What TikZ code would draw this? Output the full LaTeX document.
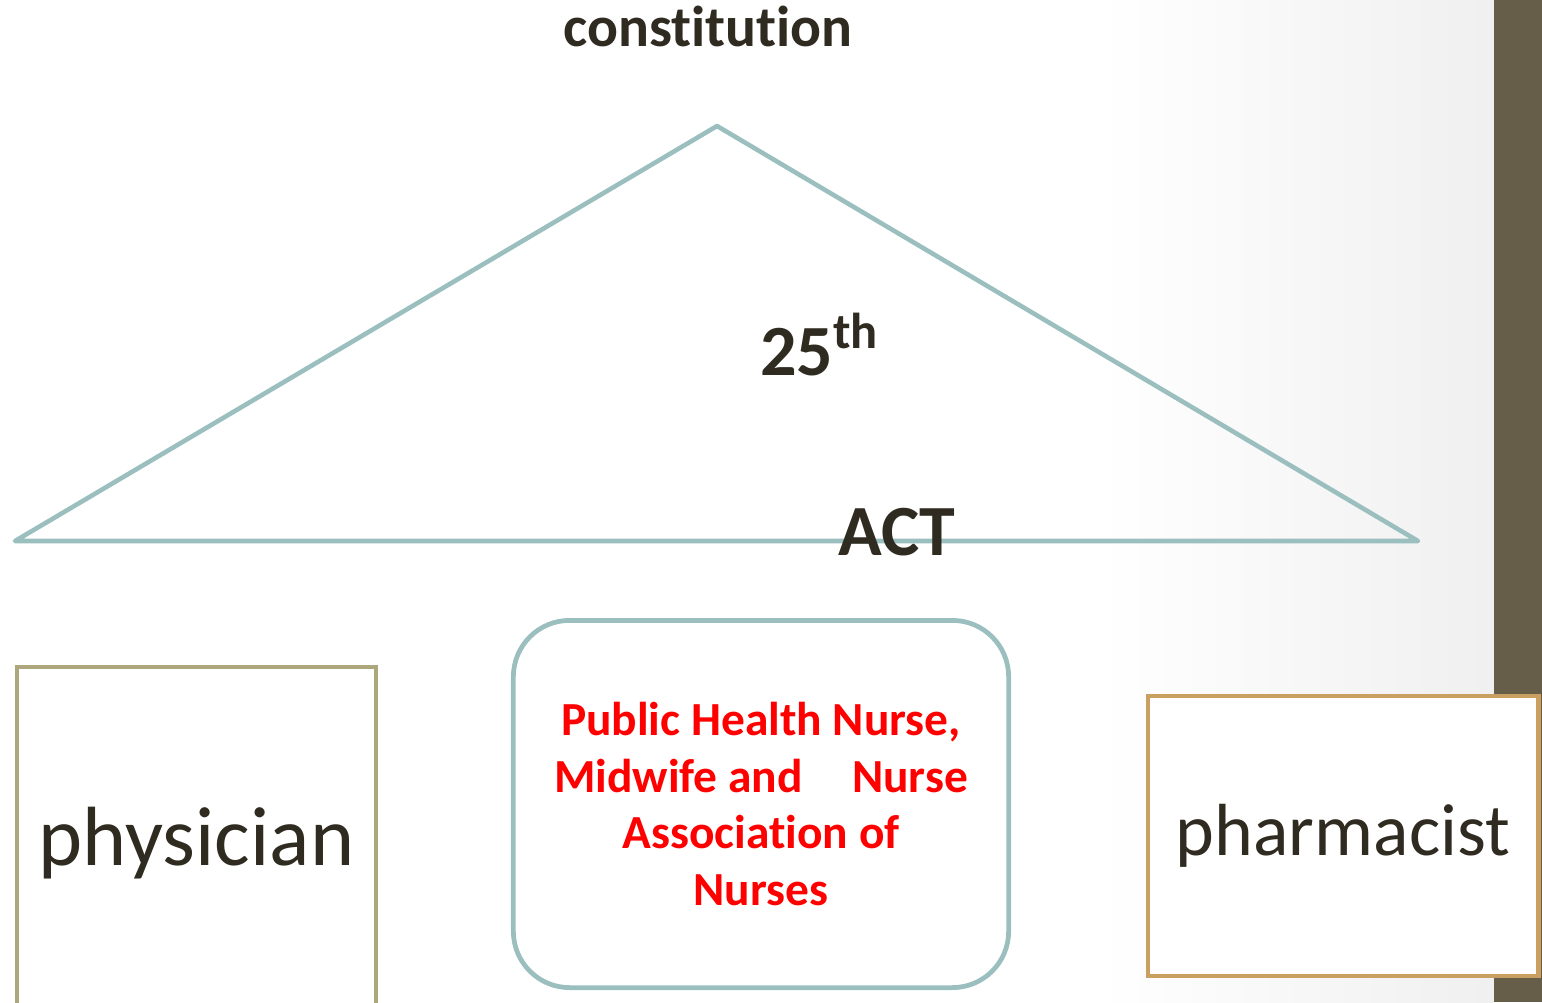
\documentclass[tikz,border=0pt]{standalone}
\usepackage{fontspec}
\setmainfont[Ligatures=NoCommon]{Carlito}
\usepackage{xcolor}
\usetikzlibrary{positioning}
\definecolor{roofteal}{RGB}{155,191,190}
\definecolor{physgold}{RGB}{173,168,124}
\definecolor{pharmgold}{RGB}{201,160,98}
\definecolor{sidebar}{RGB}{102,94,72}
\definecolor{inkdark}{RGB}{47,43,32}

\begin{document}
\begin{tikzpicture}[
    x=0.01cm, y=-0.01cm,
    roof/.style={draw=roofteal, line width=1.3pt, line join=round, line cap=round},
    box/.style={rectangle, fill=white, line width=1.35pt, align=center, inner sep=0pt, text=inkdark},
    heading/.style={font=\fontsize{16.4}{20}\selectfont\bfseries, text=inkdark, inner sep=0pt, anchor=base},
    roofword/.style={font=\fontsize{20.5}{24}\selectfont\bfseries, text=inkdark, inner sep=0pt, anchor=base},
]

% page and side bar
\useasboundingbox (0,0) rectangle (1542,1002);
\shade[left color=white, right color=black!6] (1100,0) rectangle (1494,1002);
\fill[sidebar] (1494,0) rectangle (1542,1002);

% roof
\coordinate (apex) at (717,126);
\coordinate (eaveL) at (15,541);
\coordinate (eaveR) at (1418,541);
\draw[roof] (apex) -- (eaveR) -- (eaveL) -- cycle;

\node[heading] (const) at (708,46) {constitution};
\node[roofword] (twentyfifth) at (820,375) {25\textsuperscript{th}};
\node[roofword] (act) at (897,555) {ACT};

% three pillars
\node[box, draw=physgold, line width=1.15pt, minimum width=3.59cm, minimum height=3.52cm,
      font=\fontsize{23.9}{28}\selectfont] (physician) at (196.5,843) {physician};
\node[box, draw=roofteal, rounded corners=16pt, minimum width=4.95cm, minimum height=3.67cm,
      font=\fontsize{13.5}{16.2}\selectfont\bfseries, text=red] (nurses) at (761,804)
      {Public Health Nurse,\\Midwife and\hspace{14pt}Nurse\\Association of\\Nurses};
\node[box, draw=pharmgold, minimum width=3.9cm, minimum height=2.8cm,
      font=\fontsize{21}{25}\selectfont] (pharmacist) at (1343,836) {pharmacist};

\end{tikzpicture}
\end{document}
